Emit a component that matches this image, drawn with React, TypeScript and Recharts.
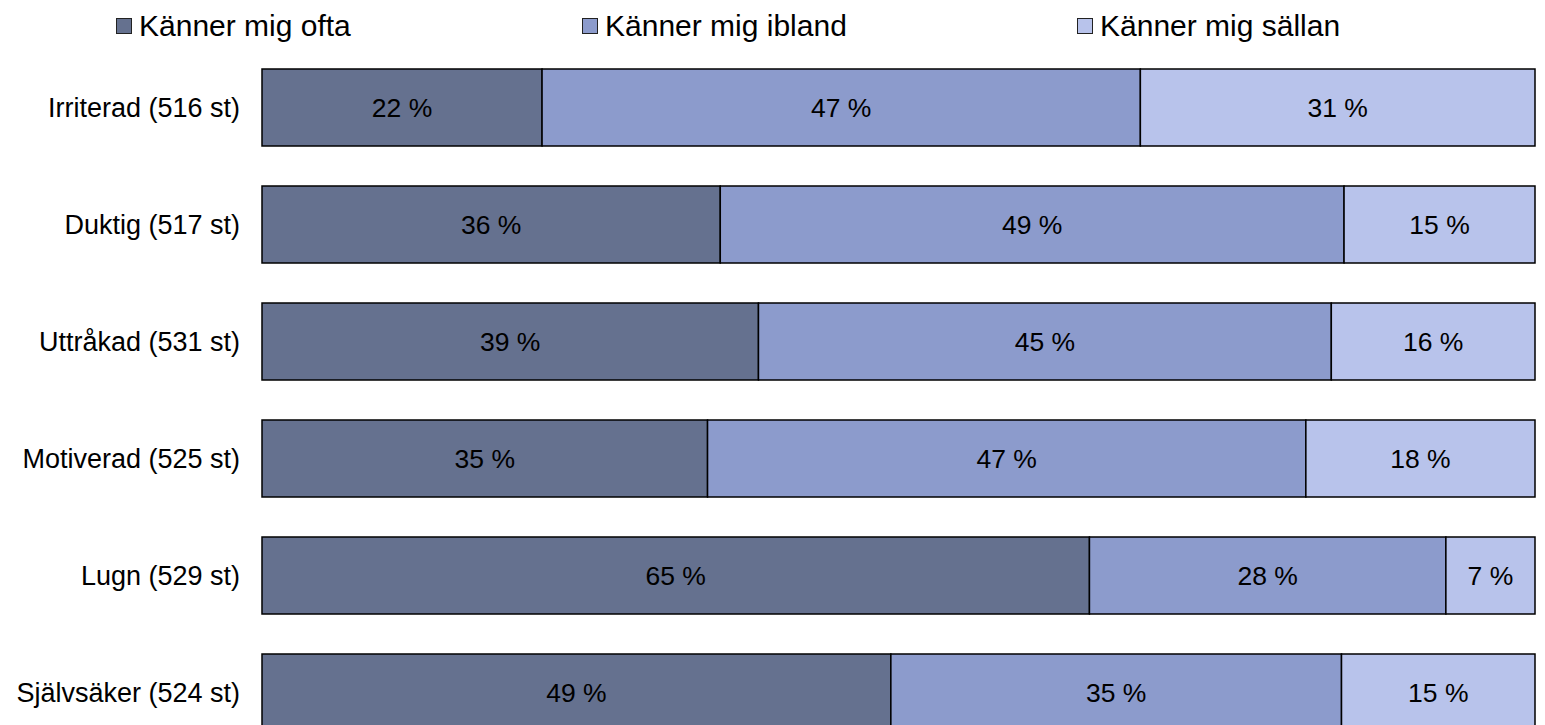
import React from 'react';
import { BarChart, Bar, XAxis, YAxis, LabelList } from 'recharts';

const categories = [
  'Irriterad (516 st)',
  'Duktig (517 st)',
  'Uttråkad (531 st)',
  'Motiverad (525 st)',
  'Lugn (529 st)',
  'Självsäker (524 st)',
];
const often = [22, 36, 39, 35, 65, 49.4];
const sometimes = [47, 49, 45, 47, 28, 35.4];
const seldom = [31, 15, 16, 18, 7, 15.2];

const seriesNames = ['Känner mig ofta', 'Känner mig ibland', 'Känner mig sällan'];
const seriesKeys = ['often', 'sometimes', 'seldom'];
const seriesColors = ['#65718F', '#8C9BCC', '#B8C3EB'];

const data = categories.map((c, i) => ({
  name: c,
  often: often[i],
  sometimes: sometimes[i],
  seldom: seldom[i],
}));

const FONT = '"Liberation Sans", Arial, sans-serif';
const legendLefts = [116, 582, 1077];

export default function App() {
  return (
    <div style={{ position: 'fixed', left: 0, top: 0, width: 1545, height: 725, overflow: 'hidden', background: '#fff', fontFamily: FONT }}>
      {seriesNames.map((n, i) => (
        <div key={n} style={{ position: 'absolute', left: legendLefts[i], top: 7, height: 38, display: 'flex', alignItems: 'center', fontSize: 30, color: '#000', whiteSpace: 'nowrap' }}>
          <span style={{ display: 'inline-block', width: 14, height: 14, background: seriesColors[i], border: '1.5px solid #222', marginRight: 7 }} />
          <span>{n}</span>
        </div>
      ))}
      <div style={{ position: 'absolute', left: 0, top: 0 }}>
        <BarChart
          width={1545}
          height={760}
          data={data}
          layout="vertical"
          margin={{ top: 49, right: 10, bottom: 9, left: 0 }}
          barSize={77}
        >
          <XAxis type="number" domain={[0, 100]} hide />
          <YAxis
            type="category"
            dataKey="name"
            width={262}
            axisLine={false}
            tickLine={false}
            tickSize={0}
            tickMargin={22}
            tick={{ fill: '#000', fontSize: 27, fontFamily: FONT }}
          />
          {seriesKeys.map((k, i) => (
            <Bar
              key={k}
              dataKey={k}
              stackId="a"
              fill={seriesColors[i]}
              stroke="#000"
              strokeWidth={1.5}
              isAnimationActive={false}
            >
              <LabelList
                dataKey={k}
                position="center"
                formatter={(v: number) => `${Math.round(v)} %`}
                style={{ fill: '#000', fontSize: 26.5, fontFamily: FONT }}
              />
            </Bar>
          ))}
        </BarChart>
      </div>
    </div>
  );
}
